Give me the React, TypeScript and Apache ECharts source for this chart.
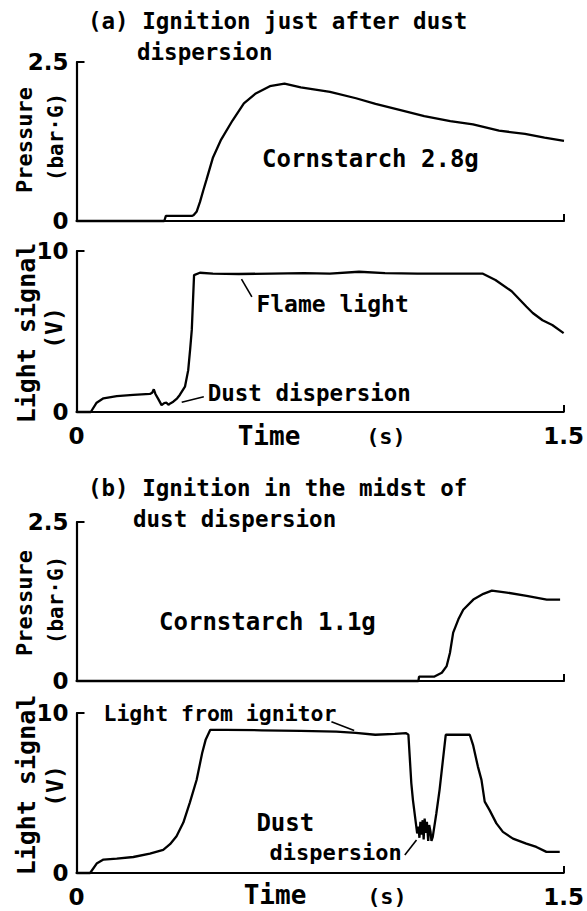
import React, { useEffect, useRef } from "react";
import * as echarts from "echarts";

// ---------- data ----------
// (a) pressure, Cornstarch 2.8 g
const pressureATime = [0, 0.27, 0.275, 0.3, 0.355, 0.36, 0.37, 0.38, 0.39, 0.4, 0.42, 0.445, 0.48, 0.515, 0.55, 0.595, 0.64, 0.69, 0.78, 0.86, 0.92, 1.0, 1.07, 1.15, 1.22, 1.3, 1.38, 1.44, 1.5];
const pressureAValue = [0, 0, 0.08, 0.08, 0.08, 0.09, 0.15, 0.3, 0.48, 0.65, 1.0, 1.28, 1.58, 1.85, 2.0, 2.12, 2.16, 2.1, 2.03, 1.93, 1.84, 1.74, 1.65, 1.57, 1.52, 1.42, 1.37, 1.31, 1.26];

// (a) light signal
const lightATime = [0, 0.044, 0.062, 0.083, 0.124, 0.175, 0.226, 0.233, 0.238, 0.243, 0.252, 0.262, 0.27, 0.277, 0.283, 0.29, 0.298, 0.31, 0.318, 0.334, 0.344, 0.35, 0.355, 0.362, 0.38, 0.42, 0.5, 0.6, 0.7, 0.78, 0.87, 0.95, 1.05, 1.15, 1.25, 1.29, 1.34, 1.385, 1.405, 1.435, 1.465, 1.5];
const lightAValue = [0, 0, 0.58, 0.85, 0.99, 1.06, 1.12, 1.2, 1.41, 1.12, 0.8, 0.43, 0.55, 0.58, 0.45, 0.55, 0.64, 0.85, 1.06, 1.57, 2.6, 3.9, 5.1, 8.5, 8.65, 8.6, 8.57, 8.6, 8.62, 8.6, 8.71, 8.62, 8.6, 8.6, 8.6, 8.2, 7.5, 6.55, 6.15, 5.7, 5.4, 4.9];

// (b) pressure, Cornstarch 1.1 g
const pressureBTime = [0, 1.052, 1.054, 1.1, 1.124, 1.139, 1.149, 1.159, 1.175, 1.19, 1.221, 1.252, 1.278, 1.324, 1.385, 1.447, 1.488];
const pressureBValue = [0, 0, 0.068, 0.068, 0.13, 0.235, 0.44, 0.76, 0.97, 1.12, 1.28, 1.37, 1.42, 1.39, 1.34, 1.28, 1.28];

// (b) light signal
const lightBTime = [0, 0.042, 0.062, 0.083, 0.124, 0.175, 0.226, 0.267, 0.288, 0.308, 0.329, 0.349, 0.37, 0.387, 0.398, 0.412, 0.46, 0.57, 0.69, 0.8, 0.86, 0.92, 0.98, 1.015, 1.022, 1.031, 1.036, 1.049, 1.053, 1.056, 1.059, 1.062, 1.066, 1.069, 1.072, 1.076, 1.079, 1.083, 1.086, 1.09, 1.093, 1.097, 1.108, 1.118, 1.137, 1.211, 1.221, 1.236, 1.247, 1.257, 1.272, 1.293, 1.313, 1.344, 1.385, 1.416, 1.447, 1.488];
const lightBValue = [0, 0, 0.59, 0.84, 0.9, 1.0, 1.21, 1.45, 1.8, 2.3, 3.15, 4.4, 5.83, 7.5, 8.35, 8.95, 8.95, 8.92, 8.88, 8.84, 8.76, 8.64, 8.7, 8.74, 8.64, 5.61, 4.56, 2.47, 2.9, 2.2, 3.2, 2.4, 3.3, 2.1, 3.4, 2.5, 3.2, 2.0, 3.0, 2.6, 2.0, 2.26, 3.72, 5.19, 8.64, 8.64, 8.01, 6.65, 5.82, 4.46, 3.93, 3.1, 2.57, 2.15, 1.84, 1.63, 1.32, 1.32];

// axes
const timeRange = [0, 1.5];
const pressureRange = [0, 2.5];
const lightRange = [0, 10];

// texts
const titleA = ["(a) Ignition just after dust", "dispersion"];
const titleB = ["(b) Ignition in the midst of", "dust dispersion"];
const pressureName = ["Pressure", "(bar·G)"];
const lightName = ["Light signal", "(V)"];
const timeName = ["Time", "(s)"];

// annotations [text, t, value]
const notesPA: [string, number, number][] = [["Cornstarch 2.8g", 0.571, 0.975]];
const notesLA: [string, number, number][] = [["Flame light", 0.554, 6.7], ["Dust dispersion", 0.404, 1.15]];
const leadersLA: number[][] = [[0.508, 8.25, 0.54, 7.15], [0.324, 0.6, 0.392, 0.95]];
const notesPB: [string, number, number][] = [["Cornstarch 1.1g", 0.254, 0.93]];
const notesLB: [string, number, number][] = [["Light from ignitor", 0.083, 9.95], ["Dust", 0.554, 3.15], ["dispersion", 0.594, 1.28]];
const leadersLB: number[][] = [[0.785, 9.45, 0.855, 8.9], [1.011, 1.12, 1.047, 2.06]];

const FONT = "'DejaVu Sans Mono', monospace";
const NUM_FONT = "'DejaVu Sans', sans-serif";
const WEIGHT = "bold";

const zip = (xs: number[], ys: number[]) => xs.map((x, i) => [x, ys[i]]);

export default function App() {
  const ref = useRef<HTMLDivElement>(null);
  useEffect(() => {
    if (!ref.current) return;
    const chart = echarts.init(ref.current, undefined, { renderer: "svg" });
    const LEFT = 76.5;
    const WIDTH = 487.5;
    const grids = [
      { top: 62, height: 159 },
      { top: 251, height: 161 },
      { top: 522, height: 159 },
      { top: 713, height: 160 },
    ];
    const ranges = [pressureRange, lightRange, pressureRange, lightRange];

    const axisLine = { show: true, lineStyle: { color: "#000", width: 2.2 } };
    const xAxes = grids.map((_, i) => ({
      type: "value",
      gridIndex: i,
      min: timeRange[0],
      max: timeRange[1],
      interval: 1.5,
      axisLine,
      axisTick: { show: true, inside: true, length: 7, lineStyle: { color: "#000", width: 2 } },
      axisLabel: {
        show: i % 2 === 1,
        color: "#000",
        fontSize: 23,
        fontFamily: NUM_FONT,
        fontWeight: WEIGHT,
        margin: 12,
      },
      splitLine: { show: false },
    }));
    const yAxes = grids.map((_, i) => ({
      type: "value",
      gridIndex: i,
      min: ranges[i][0],
      max: ranges[i][1],
      interval: ranges[i][1],
      axisLine,
      axisTick: { show: true, inside: true, length: 8, lineStyle: { color: "#000", width: 2 } },
      axisLabel: { color: "#000", fontSize: 23, fontFamily: NUM_FONT, fontWeight: WEIGHT, margin: 8 },
      splitLine: { show: false },
    }));

    const note = (n: [string, number, number], size = 22) => ({
      coord: [n[1], n[2]],
      symbol: "circle",
      symbolSize: 1,
      itemStyle: { color: "rgba(0,0,0,0)" },
      label: {
        show: true,
        formatter: n[0],
        position: "inside",
        align: "left",
        verticalAlign: "middle",
        color: "#000",
        fontSize: size,
        fontFamily: FONT,
        fontWeight: WEIGHT,
      },
    });
    const leader = (l: number[]) => [{ coord: [l[0], l[1]] }, { coord: [l[2], l[3]] }];
    const mk = (notes: [string, number, number][], sizes: number[], leaders: number[][]) => ({
      markPoint: { silent: true, data: notes.map((n, k) => note(n, sizes[k])) },
      markLine: {
        silent: true,
        symbol: ["none", "none"],
        label: { show: false },
        lineStyle: { color: "#000", width: 1.6, type: "solid" },
        data: leaders.map(leader),
      },
    });

    const lineStyle = { color: "#000", width: 2.3 };
    const base = { type: "line", showSymbol: false, symbol: "none", lineStyle, clip: false, z: 3 };
    const series = [
      { ...base, xAxisIndex: 0, yAxisIndex: 0, data: zip(pressureATime, pressureAValue), ...mk(notesPA, [24], []) },
      { ...base, xAxisIndex: 1, yAxisIndex: 1, data: zip(lightATime, lightAValue), ...mk(notesLA, [23, 22.5], leadersLA) },
      { ...base, xAxisIndex: 2, yAxisIndex: 2, data: zip(pressureBTime, pressureBValue), ...mk(notesPB, [24], []) },
      { ...base, xAxisIndex: 3, yAxisIndex: 3, data: zip(lightBTime, lightBValue), ...mk(notesLB, [21.5, 24, 22], leadersLB) },
    ];

    const txt = (text: string, x: number, y: number, size: number, align = "left", rot = 0) => ({
      type: "text",
      x,
      y,
      rotation: rot,
      style: {
        text,
        fontSize: size,
        fontFamily: FONT,
        fontWeight: WEIGHT,
        fill: "#000",
        align,
        verticalAlign: "middle",
      },
    });
    const R = Math.PI / 2;
    const graphic = [
      txt(titleA[0], 88, 21, 22.5),
      txt(titleA[1], 137, 52, 22.5),
      txt(titleB[0], 88, 488, 22.5),
      txt(titleB[1], 133, 519, 22.5),
      txt(pressureName[0], 24, 140, 22, "center", R),
      txt(pressureName[1], 56, 137, 21, "center", R),
      txt(lightName[0], 26, 333, 25, "center", R),
      txt(lightName[1], 54, 328, 23, "center", R),
      txt(pressureName[0], 24, 603, 22, "center", R),
      txt(pressureName[1], 56, 600, 21, "center", R),
      txt(lightName[0], 26, 785, 25, "center", R),
      txt(lightName[1], 55, 786, 23, "center", R),
      txt(timeName[0], 269, 436, 26, "center"),
      txt(timeName[1], 386, 436, 22, "center"),
      txt(timeName[0], 275, 895, 26, "center"),
      txt(timeName[1], 387, 896, 22, "center"),
    ];

    chart.setOption({
      animation: false,
      backgroundColor: "#fff",
      grid: grids.map((g) => ({ left: LEFT, width: WIDTH, top: g.top, height: g.height })),
      xAxis: xAxes,
      yAxis: yAxes,
      series,
      graphic,
    });
    return () => chart.dispose();
  }, []);
  return (
    <div
      ref={ref}
      style={{ position: "fixed", left: 0, top: 0, width: 587, height: 911, background: "#fff" }}
    />
  );
}
